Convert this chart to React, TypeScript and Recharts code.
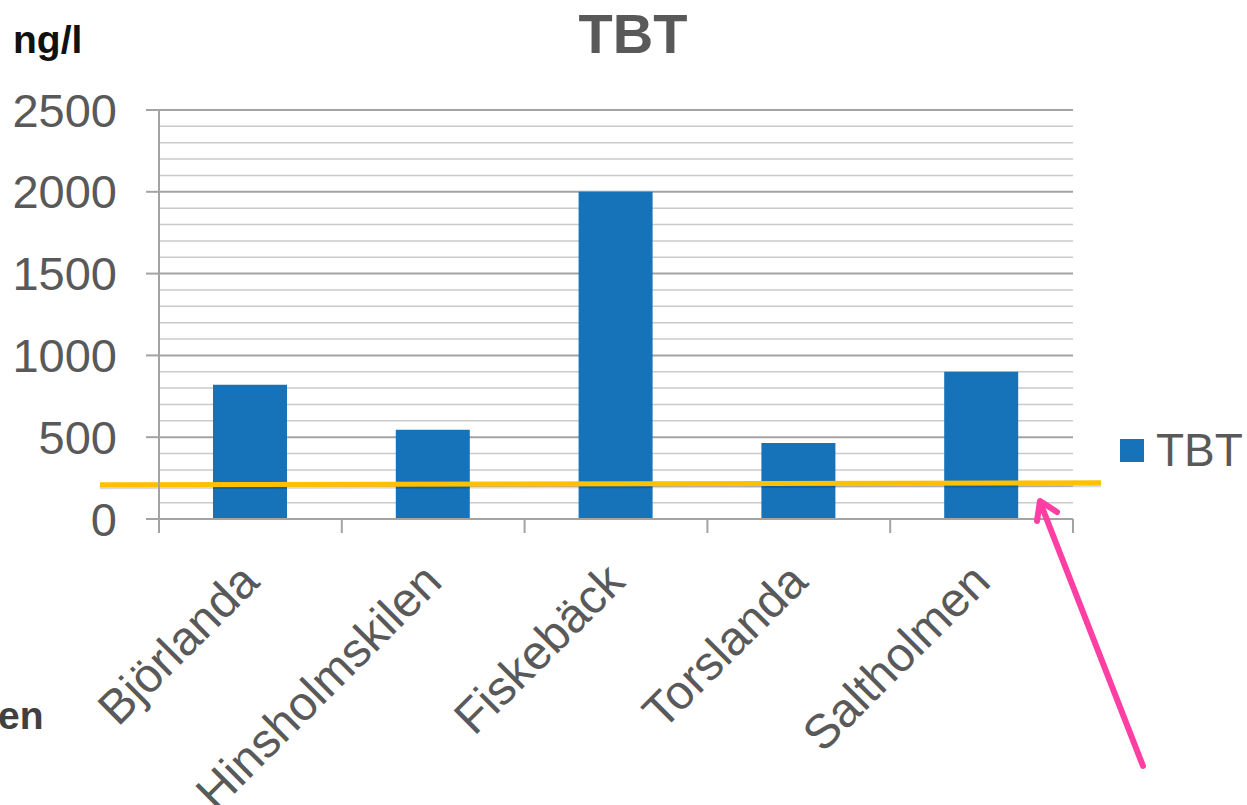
import {
  BarChart,
  Bar,
  XAxis,
  YAxis,
  CartesianGrid,
  ReferenceLine,
  Legend,
} from "recharts";

/* ── palette ── */
const C = {
  bar: "#1673B9",
  text: "#595959",
  axis: "#A3A3A3",
  minor: "#CACACA",
  limit: "#FFC000",
  arrow: "#FF3FA4",
};

/* ── data ── */
const stations = ["Björlanda", "Hinsholmskilen", "Fiskebäck", "Torslanda", "Saltholmen"];
const tbt = [820, 545, 2000, 465, 900];
const yTicks = [0, 500, 1000, 1500, 2000, 2500];
const minorTicks = [100, 200, 300, 400, 600, 700, 800, 900, 1100, 1200, 1300, 1400, 1600, 1700, 1800, 1900, 2100, 2200, 2300, 2400];
const limitValue = 215;

const data = stations.map((s, i) => ({ name: s, TBT: tbt[i] }));

const FONT = "'Liberation Sans', Arial, sans-serif";

/* ── x tick: rotated label + tick marks between categories ── */
const StationTick = ({ x, y, payload, index, visibleTicksCount }: any) => {
  const half = payload.offset || 0;
  const ax = x + 11;
  const ay = y + 65;
  return (
    <g>
      <line x1={x - half} y1={y} x2={x - half} y2={y + 14} stroke={C.axis} strokeWidth={2} />
      {index === visibleTicksCount - 1 && (
        <line x1={x + half} y1={y} x2={x + half} y2={y + 14} stroke={C.axis} strokeWidth={2} />
      )}
      <text
        x={ax}
        y={ay}
        transform={`rotate(-45 ${ax} ${ay})`}
        textAnchor="end"
        fontSize={48}
        fill={C.text}
        fontFamily={FONT}
      >
        {payload.value}
      </text>
    </g>
  );
};

/* ── limit line, drawn a bit wider than the plot ── */
const LimitLine = (p: any) => (
  <g>
    <line
      x1={p.x1 - 59}
      y1={p.y1 + 3}
      x2={p.x2 + 28}
      y2={p.y2 + 1}
      stroke="rgba(0,0,0,0.15)"
      strokeWidth={5}
    />
    <line
      x1={p.x1 - 59}
      y1={p.y1 + 1}
      x2={p.x2 + 28}
      y2={p.y2 - 1}
      stroke={C.limit}
      strokeWidth={5}
    />
  </g>
);

const LegendBox = ({ payload }: any) => (
  <div style={{ display: "flex", alignItems: "center" }}>
    {(payload || []).map((it: any) => (
      <div key={it.value} style={{ display: "flex", alignItems: "center" }}>
        <span style={{ width: 24, height: 23, background: it.color, marginRight: 12 }} />
        <span style={{ fontSize: 46, color: C.text, lineHeight: "52px", fontFamily: FONT }}>
          {it.value}
        </span>
      </div>
    ))}
  </div>
);

/* ── APP ── */
export default function App() {
  return (
    <div
      style={{
        position: "absolute",
        left: 0,
        top: 0,
        width: 1247,
        height: 805,
        background: "#fff",
        fontFamily: FONT,
        overflow: "hidden",
      }}
    >
      <BarChart
        width={1247}
        height={805}
        data={data}
        margin={{ top: 110, right: 174, bottom: 0, left: 0 }}
        barSize={74}
      >
        <CartesianGrid vertical={false} horizontalValues={minorTicks} stroke={C.minor} strokeWidth={1.5} />
        <CartesianGrid vertical={false} stroke={C.axis} strokeWidth={2} />
        <XAxis
          dataKey="name"
          height={286}
          interval={0}
          tickLine={false}
          tickSize={0}
          tickMargin={0}
          stroke={C.axis}
          strokeWidth={2}
          tick={<StationTick />}
        />
        <YAxis
          width={159}
          domain={[0, 2500]}
          ticks={yTicks}
          interval={0}
          tickSize={13}
          tickMargin={29}
          stroke={C.axis}
          strokeWidth={2}
          tick={{ fontSize: 47, fill: C.text, fontFamily: FONT }}
        />
        <Bar dataKey="TBT" fill={C.bar} isAnimationActive={false} />
        <ReferenceLine y={limitValue} shape={LimitLine} />
        <Legend
          layout="vertical"
          align="center"
          verticalAlign="middle"
          content={<LegendBox />}
          wrapperStyle={{ left: 1120, top: 424, width: 130 }}
        />
      </BarChart>

      {/* annotations */}
      <svg
        width={1247}
        height={805}
        style={{ position: "absolute", left: 0, top: 0, pointerEvents: "none" }}
      >
        <text x={633} y={53} textAnchor="middle" fontSize={56} fontWeight="bold" fill={C.text} fontFamily={FONT}>
          TBT
        </text>
        <text x={13} y={53} fontSize={39} fontWeight="bold" fill="#111" fontFamily={FONT}>
          ng/l
        </text>
        <text x={-2} y={729} fontSize={39} fontWeight="bold" fill="#404040" fontFamily={FONT}>
          en
        </text>
        <g stroke={C.arrow} strokeWidth={6} strokeLinecap="round" strokeLinejoin="round" fill="none">
          <line x1={1143} y1={766} x2={1040} y2={502} />
          <polyline points="1037,521 1040,501 1057,512" />
        </g>
      </svg>
    </div>
  );
}
